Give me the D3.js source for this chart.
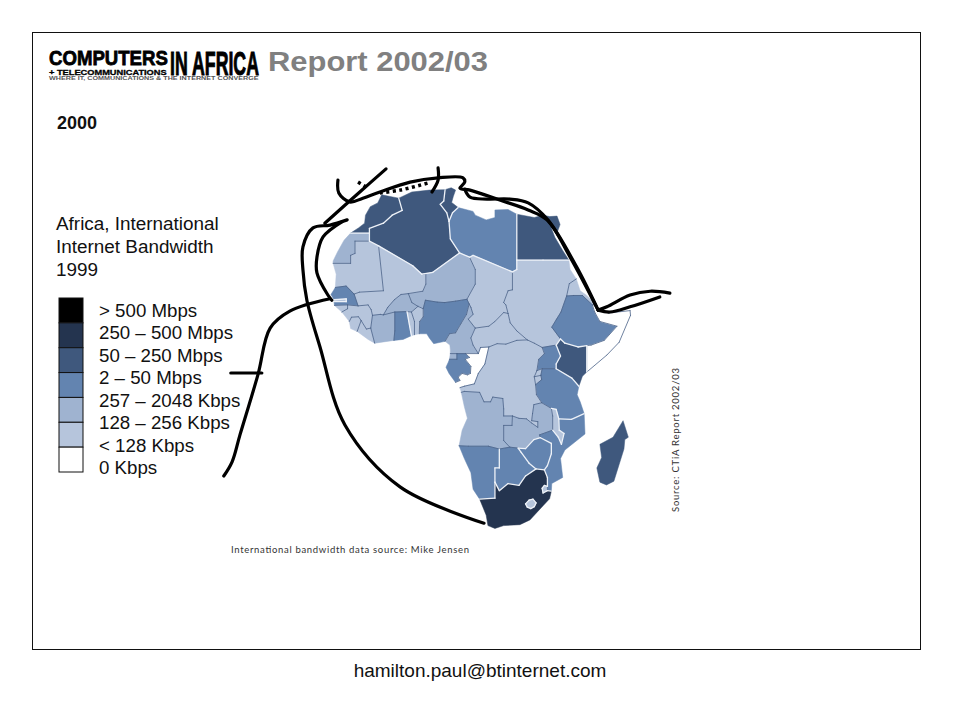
<!DOCTYPE html>
<html>
<head>
<meta charset="utf-8">
<script src="https://cdn.jsdelivr.net/npm/d3@7"></script>
<style>
body { margin: 0; background: #fff; }
text { font-family: "Liberation Sans", Arial, sans-serif; fill: #111; }
</style>
</head>
<body>
<div id="chart"></div>
<script>
// Legend: 8 labels next to 7 swatches, as in the slide
var legendLabels = ["> 500 Mbps", "250 – 500 Mbps", "50 – 250 Mbps", "2 – 50 Mbps", "257 – 2048 Kbps", "128 – 256 Kbps", "< 128 Kbps", "0 Kbps"];
var legendColors = ["#000000", "#24344f", "#3f587d", "#6384b0", "#9fb3d0", "#b6c5dc", "#ffffff"];
var titleLines = ["Africa, International", "Internet Bandwidth", "1999"];

// Countries per legend colour (index into legendColors)
var class1 = ["South Africa"];
var class2 = ["Morocco", "Algeria", "Tunisia", "Egypt", "Kenya", "Madagascar"];
var class3 = ["Libya", "Senegal", "Nigeria", "Ghana", "Ethiopia", "Gabon", "Uganda", "Tanzania", "Mozambique", "Namibia", "Botswana", "Zimbabwe"];
var class4 = ["Western Sahara", "Niger", "Burkina Faso", "Cote d'Ivoire", "Cameroon", "Equatorial Guinea", "Angola", "Zambia"];
var class5 = ["Mauritania", "Mali", "Chad", "Sudan", "Eritrea", "Central African Rep.", "DR Congo", "Guinea", "Guinea-Bissau", "Gambia", "Sierra Leone", "Liberia", "Togo", "Benin", "Rwanda", "Burundi", "Malawi", "Lesotho", "Swaziland"];
var class6 = ["Somalia", "Congo"];

// Borders that are drawn white in the source although neither side is dark
var whitePairs = ["Libya|Chad", "Libya|Niger", "Libya|Sudan", "Namibia|Botswana", "Botswana|Zimbabwe", "Zimbabwe|Mozambique", "Zimbabwe|Zambia", "Tanzania|Mozambique", "Ghana|Togo", "Senegal|Gambia", "Malawi|Mozambique", "Malawi|Tanzania"];

// Outlines in [lon, lat]
var outlines = {
  "Morocco": [[[-5.9,35.8],[-2,35.1],[-1.2,32.5],[-3.5,31.5],[-5.5,29.8],[-8.7,28.7],[-8.7,27.7],[-13,27.7],[-11.2,28.8],[-9.8,29.8],[-9.6,31.5],[-8.5,33.3],[-6.8,34.1]]],
  "Western Sahara": [[[-8.7,27.7],[-8.7,26],[-12,26],[-12,23.4],[-13,23],[-13,21.3],[-17,21.3],[-17,21.8],[-16,23.7],[-14.5,26.2],[-13,27.7]]],
  "Mauritania": [[[-17,21.3],[-13,21.3],[-13,23],[-12,23.4],[-12,26],[-8.7,26],[-6.6,25],[-5.5,15.5],[-11,15.2],[-12.2,14.8],[-14,16.5],[-16.5,16.2],[-16.3,19]]],
  "Algeria": [[[-2,35.1],[1,36.4],[5,36.8],[8.6,36.9],[8.3,34.5],[7.5,33.8],[9,32],[9.5,30.2],[9.8,26.5],[11.9,23.5],[5.8,19.4],[3.3,19],[1.2,20.8],[-6.6,25],[-8.7,26],[-8.7,27.7],[-8.7,28.7],[-5.5,29.8],[-3.5,31.5],[-1.2,32.5]]],
  "Tunisia": [[[8.6,36.9],[10,37.3],[11,36.8],[10.5,35.5],[10.1,34.2],[11.6,33.1],[10.3,32],[9.5,30.2],[9,32],[7.5,33.8],[8.3,34.5]]],
  "Libya": [[[11.6,33.1],[15,32.3],[15.5,31.5],[18,30.5],[20,31],[20,32.6],[23,32.7],[25,31.7],[25,22],[25,20],[24,19.5],[15,23],[14.2,22.6],[11.9,23.5],[9.8,26.5],[9.5,30.2],[10.3,32]]],
  "Egypt": [[[25,31.7],[29,31],[31,31.5],[32.5,31.2],[34.2,31.3],[34.9,29.5],[34.2,27.8],[32.8,29],[33.7,26.8],[35.5,24],[36.9,22],[31,22],[25,22]]],
  "Sudan": [[[25,22],[31,22],[36.9,22],[37.2,20],[38.6,18],[37,17],[36.4,14.4],[35.1,11],[34.1,9.5],[33,7.8],[35,5.3],[34,4],[30.8,3.5],[29,4.4],[27.4,5.1],[25,7],[23.5,8.7],[23,10.7],[22.5,12.5],[22,13],[23,15.5],[24,15.7],[24,19.5],[25,20]]],
  "Eritrea": [[[38.6,18],[39.5,15.5],[41,14.5],[43.2,12.5],[42.3,12.5],[40,14.5],[38,14.5],[36.4,14.4],[37,17]]],
  "Ethiopia": [[[36.4,14.4],[38,14.5],[40,14.5],[42.3,12.5],[42.8,11],[44,9],[47.9,8],[45,5],[42,4],[41,3.9],[39,3.6],[36,4.4],[35,5.3],[33,7.8],[34.1,9.5],[35.1,11]]],
  "Somalia": [[[42.3,12.5],[43.2,12.5],[43.6,11.4],[46,10.8],[50.9,11.3],[51,10.3],[48.4,4.6],[45.6,1.9],[41,-1.7],[41,3.9],[42,4],[45,5],[47.9,8],[44,9],[42.8,11]]],
  "Kenya": [[[34,4],[35,5.3],[36,4.4],[39,3.6],[41,3.9],[41,-1.7],[40,-2.6],[39.2,-4.7],[37.6,-3],[34,-1],[34,0],[35,1.7]]],
  "Uganda": [[[30.8,3.5],[34,4],[35,1.7],[34,0],[34,-1],[30.8,-1],[29.6,-1.4],[30,1],[31.3,2.2]]],
  "Rwanda": [[[29.6,-1.4],[30.8,-1],[30.5,-2.4],[29,-2.7]]],
  "Burundi": [[[29,-2.7],[30.5,-2.4],[30.7,-3.3],[29.3,-4.4]]],
  "Tanzania": [[[34,-1],[37.6,-3],[39.2,-4.7],[38.8,-6.5],[39.5,-8],[40.4,-10.5],[37.5,-11.7],[34.6,-11.6],[34,-9.6],[32.9,-9.4],[30.7,-8.2],[29.5,-6.5],[29.3,-4.4],[30.7,-3.3],[30.5,-2.4],[30.8,-1]]],
  "Niger": [[[11.9,23.5],[14.2,22.6],[15.5,20],[15.5,16.9],[13.6,13.7],[11,13.3],[8.5,13],[6.8,13.1],[4.1,13.5],[3.6,11.7],[2.4,12.2],[1,13],[0.2,14.9],[3.5,15.4],[4.2,16.9],[4.2,19.1],[3.3,19],[5.8,19.4]]],
  "Chad": [[[24,19.5],[15,23],[14.2,22.6],[15.5,20],[15.5,16.9],[13.6,13.7],[14.1,12.7],[14.5,12],[15,10.5],[13.9,9.5],[15.5,7.6],[18.6,8],[20,9],[22,10.9],[23,10.7],[22.5,12.5],[22,13],[23,15.5],[24,15.7]]],
  "Nigeria": [[[2.7,6.4],[2.8,9],[3.6,10],[3.6,11.7],[4.1,13.5],[6.8,13.1],[8.5,13],[11,13.3],[13.6,13.7],[14.1,12.7],[13.5,10.5],[12.2,8.5],[11,6.6],[9.6,6.4],[8.6,4.8],[6,4.3],[5,5.5],[4.4,6.4]]],
  "Cameroon": [[[14.1,12.7],[14.5,12],[15,10.5],[13.9,9.5],[15.5,7.6],[14.5,5.5],[15,4],[16.2,2.2],[13.3,2.2],[11.3,2.2],[9.8,2.2],[9.8,3],[9.7,4],[8.6,4.8],[9.6,6.4],[11,6.6],[12.2,8.5],[13.5,10.5]]],
  "Equatorial Guinea": [[[9.8,2.2],[11.3,2.2],[11.3,1],[9.6,1]]],
  "Gabon": [[[11.3,2.2],[13.3,2.2],[14.2,1.4],[13.2,1],[14.5,-0.5],[14.4,-2],[13.7,-2.3],[12.5,-2],[11.6,-2.8],[12,-3.5],[11,-3.9],[9.5,-2],[8.8,-0.7],[9.3,0.3],[9.6,1],[11.3,1]]],
  "Congo": [[[13.3,2.2],[16.2,2.2],[16.7,3.5],[18.6,3.6],[17.7,0],[16.2,-2],[15.3,-4.2],[13,-4.7],[12,-5],[11,-3.9],[12,-3.5],[11.6,-2.8],[12.5,-2],[13.7,-2.3],[14.4,-2],[14.5,-0.5],[13.2,1],[14.2,1.4]]],
  "Central African Rep.": [[[15.5,7.6],[18.6,8],[20,9],[22,10.9],[23,10.7],[23.5,8.7],[25,7],[27.4,5.1],[25,5],[22.5,4.2],[20.5,4.3],[18.6,3.6],[16.7,3.5],[16.2,2.2],[15,4],[14.5,5.5]]],
  "DR Congo": [[[18.6,3.6],[20.5,4.3],[22.5,4.2],[25,5],[27.4,5.1],[29,4.4],[30.8,3.5],[31.3,2.2],[30,1],[29.6,-1.4],[29,-2.7],[29.3,-4.4],[29.5,-6.5],[30.7,-8.2],[28.9,-8.6],[28.6,-10.5],[28.4,-12],[29.8,-12.2],[29.8,-13.4],[28.4,-12.5],[27.2,-11.6],[25.5,-11.5],[24,-11],[22,-11],[22,-9.5],[21.8,-7.3],[19.5,-7],[19,-8],[17.5,-8],[16.5,-6],[13,-5.8],[12.3,-6],[12,-5],[13,-4.7],[15.3,-4.2],[16.2,-2],[17.7,0]]],
  "Angola": [[[12.3,-6],[13,-5.8],[16.5,-6],[17.5,-8],[19,-8],[19.5,-7],[21.8,-7.3],[22,-9.5],[22,-11],[24,-11],[23.9,-13],[22,-13],[22,-16.2],[23.4,-17.6],[21,-18],[18.5,-17.4],[13.9,-17.4],[11.8,-17.3],[12.5,-14],[13.7,-11.5],[13,-9]]],
  "Zambia": [[[24,-11],[25.5,-11.5],[27.2,-11.6],[28.4,-12.5],[29.8,-13.4],[29.8,-12.2],[28.4,-12],[28.6,-10.5],[28.9,-8.6],[30.7,-8.2],[32.9,-9.4],[33.2,-11],[33.2,-14],[30.2,-15],[30.4,-15.6],[28.9,-16],[27,-17.9],[25.3,-17.8],[23.4,-17.6],[22,-16.2],[22,-13],[23.9,-13]]],
  "Malawi": [[[32.9,-9.4],[34,-9.6],[34.6,-11.6],[34.7,-14],[35.8,-14.7],[35.2,-17],[34.5,-15.5],[33.2,-14],[33.2,-11]]],
  "Mozambique": [[[30.4,-15.6],[30.2,-15],[33.2,-14],[34.5,-15.5],[35.2,-17],[35.8,-14.7],[34.7,-14],[34.6,-11.6],[37.5,-11.7],[40.4,-10.5],[40.6,-14.8],[36,-18.2],[35,-20],[35.5,-24],[33,-25.3],[32.9,-26.9],[32,-26.8],[32,-25.9],[32,-24],[31.3,-22.4],[32,-21.5],[32.9,-19],[32.9,-16.8]]],
  "Zimbabwe": [[[25.3,-17.8],[27,-17.9],[28.9,-16],[30.4,-15.6],[32.9,-16.8],[32.9,-19],[32,-21.5],[31.3,-22.4],[29.4,-22.2],[27.8,-21],[26,-18.7]]],
  "Namibia": [[[11.8,-17.3],[13.9,-17.4],[18.5,-17.4],[21,-18],[21,-22],[20,-22],[20,-25],[20,-28.4],[16.5,-28.6],[15,-26.5],[14.5,-23],[13,-20]]],
  "Botswana": [[[21,-18],[23.4,-17.6],[25.3,-17.8],[26,-18.7],[27.8,-21],[29.4,-22.2],[27,-23.7],[25.5,-25.7],[23,-25.3],[21,-26.8],[20,-25],[20,-22],[21,-22]]],
  "South Africa": [[[20,-25],[21,-26.8],[23,-25.3],[25.5,-25.7],[27,-23.7],[29.4,-22.2],[31.3,-22.4],[32,-24],[32,-25.9],[31.3,-25.7],[30.8,-26.3],[31,-27.3],[32,-26.8],[32.9,-26.9],[32.5,-28.5],[31,-30],[28,-33],[25.7,-34],[22,-34.2],[20,-34.8],[18.4,-34.2],[18,-32],[16.5,-28.6],[20,-28.4]],
    [[27,-29.6],[27.8,-28.8],[28.7,-28.6],[29.4,-29.4],[29,-30.2],[28.2,-30.6],[27.4,-30.3]]],
  "Lesotho": [[[27,-29.6],[27.8,-28.8],[28.7,-28.6],[29.4,-29.4],[29,-30.2],[28.2,-30.6],[27.4,-30.3]]],
  "Swaziland": [[[31.3,-25.7],[32,-25.9],[32,-26.8],[31,-27.3],[30.8,-26.3]]],
  "Madagascar": [[[49.3,-12],[50.5,-15.5],[49.7,-16],[49.5,-18],[47.2,-24.8],[45.5,-25.6],[44,-25],[43.3,-22],[44.4,-19.8],[44,-17],[47,-15.5]]],
  "Mali": [[[-5.5,15.5],[-6.6,25],[1.2,20.8],[3.3,19],[4.2,19.1],[4.2,16.9],[3.5,15.4],[0.2,14.9],[-1.5,14.7],[-3,13.6],[-4.5,12],[-5.5,10.4],[-6.2,10.5],[-8,10.3],[-8.3,11.5],[-9,12.5],[-11.3,12.3],[-12.2,14.8],[-11,15.2]]],
  "Senegal": [[[-17.5,14.7],[-16.5,16.2],[-14,16.5],[-12.2,14.8],[-11.3,12.3],[-13.7,12.5],[-16.7,12.4],[-16.8,13.2],[-14,13.2],[-14,13.8],[-16.8,13.6]]],
  "Gambia": [[[-16.8,13.6],[-14,13.8],[-14,13.2],[-16.8,13.2]]],
  "Guinea-Bissau": [[[-16.7,12.4],[-13.7,12.5],[-13.7,11.7],[-15,11]]],
  "Guinea": [[[-13.7,12.5],[-11.3,12.3],[-9,12.5],[-8.3,11.5],[-8,10.3],[-8.4,7.6],[-9.4,7.4],[-10.6,9.2],[-11.2,10],[-12.8,9.9],[-13.3,9],[-15,11],[-13.7,11.7]]],
  "Sierra Leone": [[[-13.3,9],[-12.8,9.9],[-11.2,10],[-10.6,9.2],[-11.5,6.9],[-13,7.5]]],
  "Liberia": [[[-11.5,6.9],[-10.6,9.2],[-9.4,7.4],[-8.4,7.6],[-7.5,4.4],[-9,5.2]]],
  "Cote d'Ivoire": [[[-7.5,4.4],[-3.1,5],[-2.9,7],[-2.9,11],[-5.5,10.4],[-6.2,10.5],[-8,10.3],[-8.4,7.6]]],
  "Burkina Faso": [[[-5.5,10.4],[-2.9,11],[-0.1,11.1],[0.9,11],[2.4,12.2],[1,13],[0.2,14.9],[-1.5,14.7],[-3,13.6],[-4.5,12]]],
  "Ghana": [[[-3.1,5],[-2.9,7],[-2.9,11],[-0.1,11.1],[0.5,8],[0.9,6],[-1,5.2]]],
  "Togo": [[[0.9,6],[1.6,6.2],[1.6,9],[0.9,11],[-0.1,11.1],[0.5,8]]],
  "Benin": [[[1.6,6.2],[2.7,6.4],[2.8,9],[3.6,10],[3.6,11.7],[2.4,12.2],[0.9,11],[1.6,9]]]
};

// Cables, also [lon, lat]; they run out over the sea
var cableRoutes = [
  [[-4.9,41.3],[-10.9,36.4],[-18.9,29.8]],
  [[-15.9,38.9],[-15.7,36.2],[-13.2,34.3],[-10.2,35.1],[-6.3,36.4],[0.6,38.5],[7,39.4],[12.7,39.4],[13.1,38.5],[12,37.2],[14.3,36.8],[21.1,34.7],[27.6,32.6],[31.9,30.5],[37.2,22.6],[43.6,11.4]],
  [[13.1,37],[14.3,35.3],[18.2,34.9],[23.4,34.9],[27.6,34.1],[32.1,30.5],[38.7,20.5],[43.6,11.4]],
  [[43.6,11.4],[46.3,11],[50.9,12.1],[57.7,14.2]],
  [[43.6,11.4],[45.6,12.1],[50.9,14.6],[55.5,15.4],[60,15]],
  [[-13.8,30.5],[-17.7,29.4],[-21.6,28.8],[-23.9,24.8],[-23.9,19.9],[-23,13.5],[-20,3.6],[-14.3,-12.9],[-1.7,-26],[17.5,-33.7]],
  [[-15,30.1],[-19.3,26.9],[-20.7,22.6],[-20.7,19.3],[-18.2,14.6],[-17.3,13.5]],
  [[-17.7,13.8],[-26.9,11.2],[-31.4,7.6],[-34.2,-2.3],[-38.3,-15],[-40.1,-20.7],[-42,-23.7]],
  [[-40.4,-1.9],[-33.3,-1.9]],
  [[7,41.5],[7,38.9],[5.6,36.4]]
];
var dottedRoutes = [
  [[-6.3,36.2],[-1.7,36.8],[4.7,38.3]],
  [[-11.3,38.5],[-9,37.2]]
];

var svg = d3.select("#chart").append("svg")
  .attr("width", 960)
  .attr("height", 720);

// Slide frame
svg.append("rect")
  .attr("x", 32.5).attr("y", 32.5)
  .attr("width", 888).attr("height", 617)
  .attr("fill", "none").attr("stroke", "#111");

// Map scales, the source is a plain lon/lat grid stretched a little in y
var xScale = d3.scaleLinear().domain([-20, 55]).range([320, 648]);
var yScale = d3.scaleLinear().domain([40, -40]).range([175, 553]);
var path = d3.geoPath(d3.geoTransform({
  point: function (lon, lat) { this.stream.point(xScale(lon), yScale(lat)); }
}));

var colorOf = {};
[class1, class2, class3, class4, class5, class6].forEach(function (names, i) {
  names.forEach(function (name) { colorOf[name] = i + 1; });
});

var features = Object.keys(outlines).map(function (name) {
  var rings = outlines[name].map(function (ring) { return ring.concat([ring[0]]); });
  return { type: "Feature", properties: { name: name }, geometry: { type: "Polygon", coordinates: rings } };
});

svg.append("g").selectAll("path")
  .data(features)
  .enter()
  .append("path")
  .attr("d", path)
  .attr("fill", d => legendColors[colorOf[d.properties.name]])
  .attr("stroke", d => legendColors[colorOf[d.properties.name]])
  .attr("stroke-width", 0.5);

// Find shared edges, an edge seen once is coast and gets no line
var edges = {};
Object.keys(outlines).forEach(function (name) {
  outlines[name].forEach(function (ring) {
    ring.forEach(function (p, i) {
      var q = ring[(i + 1) % ring.length];
      var key = [String(p), String(q)].sort().join("|");
      if (!edges[key]) edges[key] = { line: [p, q], owners: [] };
      if (edges[key].owners.indexOf(name) < 0) edges[key].owners.push(name);
    });
  });
});

function isWhite(a, b) {
  return colorOf[a] <= 2 || colorOf[b] <= 2 ||
    whitePairs.indexOf(a + "|" + b) >= 0 || whitePairs.indexOf(b + "|" + a) >= 0;
}

var inner = Object.values(edges).filter(e => e.owners.length == 2);
var somaliCoast = Object.values(edges).filter(e => e.owners.length == 1 && e.owners[0] == "Somalia");

function lineFeature(e) {
  return { type: "LineString", coordinates: e.line };
}

svg.append("g").selectAll("path")
  .data(inner.filter(e => !isWhite(e.owners[0], e.owners[1])).concat(somaliCoast))
  .enter()
  .append("path")
  .attr("d", d => path(lineFeature(d)))
  .attr("fill", "none")
  .attr("stroke", "#4a6288")
  .attr("stroke-width", 0.8)
  .attr("stroke-linecap", "round");

svg.append("g").selectAll("path")
  .data(inner.filter(e => isWhite(e.owners[0], e.owners[1])))
  .enter()
  .append("path")
  .attr("d", d => path(lineFeature(d)))
  .attr("fill", "none")
  .attr("stroke", "#eef2f8")
  .attr("stroke-width", 1.3)
  .attr("stroke-linecap", "round");

// Cables
var cableLine = d3.line()
  .x(d => xScale(d[0]))
  .y(d => yScale(d[1]))
  .curve(d3.curveCatmullRom);

svg.append("g").selectAll("path")
  .data(cableRoutes)
  .enter()
  .append("path")
  .attr("d", cableLine)
  .attr("fill", "none")
  .attr("stroke", "#000")
  .attr("stroke-width", 3.2)
  .attr("stroke-linecap", "round");

svg.append("g").selectAll("path")
  .data(dottedRoutes)
  .enter()
  .append("path")
  .attr("d", cableLine)
  .attr("fill", "none")
  .attr("stroke", "#000")
  .attr("stroke-width", 3.5)
  .attr("stroke-dasharray", "3,3.5");

// Legend
var swatchScale = d3.scaleBand().domain(legendColors).range([298, 472]);
var labelScale = d3.scalePoint().domain(legendLabels).range([316.5, 474]);

svg.append("g").selectAll("rect")
  .data(legendColors)
  .enter()
  .append("rect")
  .attr("x", 59)
  .attr("y", d => swatchScale(d))
  .attr("width", 24)
  .attr("height", swatchScale.bandwidth())
  .attr("fill", d => d)
  .attr("stroke", "#111")
  .attr("stroke-width", 1);

svg.append("g").selectAll("text")
  .data(legendLabels)
  .enter()
  .append("text")
  .attr("x", 99)
  .attr("y", d => labelScale(d))
  .attr("font-size", 18.7)
  .text(d => d);

svg.append("g").selectAll("text")
  .data(titleLines)
  .enter()
  .append("text")
  .attr("x", 56)
  .attr("y", (d, i) => 230 + i * 23)
  .attr("font-size", 18.9)
  .text(d => d);

svg.append("text").attr("x", 57).attr("y", 129)
  .attr("font-size", 18).attr("font-weight", "bold").text("2000");

// Logo and title, squeezed with a transform so the boxes stay true
function logoText(label, x, y, size, width, color, heavy) {
  var t = svg.append("text")
    .attr("font-size", size)
    .attr("font-weight", "bold")
    .style("font-family", "'Liberation Sans Narrow', 'Liberation Sans', sans-serif")
    .style("fill", color)
    .style("stroke", color)
    .style("stroke-width", heavy)
    .text(label);
  var natural = t.node().getComputedTextLength();
  t.attr("transform", `translate(${x}, ${y}) scale(${width / natural}, 1)`);
  return t;
}
logoText("COMPUTERS", 49, 65, 21, 119, "#000", 0.8);
logoText("+ TELECOMMUNICATIONS", 49, 74.5, 7.5, 118, "#000", 0.3);
logoText("IN AFRICA", 170, 75, 34, 89, "#000", 1);
logoText("WHERE IT, COMMUNICATIONS & THE INTERNET CONVERGE", 49, 79.5, 4.5, 210, "#555", 0);

svg.append("text").attr("x", 268).attr("y", 71)
  .attr("font-size", 27).attr("font-weight", "bold")
  .attr("textLength", 220).attr("lengthAdjust", "spacingAndGlyphs")
  .style("fill", "#808080")
  .text("Report 2002/03");

// Small source notes
svg.append("text").attr("x", 231).attr("y", 553)
  .attr("font-size", 9.5)
  .attr("textLength", 238)
  .style("font-family", "Lato, sans-serif")
  .style("fill", "#333")
  .text("International bandwidth data source: Mike Jensen");

svg.append("text")
  .attr("transform", "translate(679,512) rotate(-90)")
  .attr("font-size", 9.5)
  .attr("textLength", 144)
  .style("font-family", "Lato, sans-serif")
  .style("fill", "#333")
  .text("Source: CTiA Report 2002/03");

svg.append("text").attr("x", 480).attr("y", 677)
  .attr("text-anchor", "middle")
  .attr("font-size", 19)
  .text("hamilton.paul@btinternet.com");
</script>
</body>
</html>
